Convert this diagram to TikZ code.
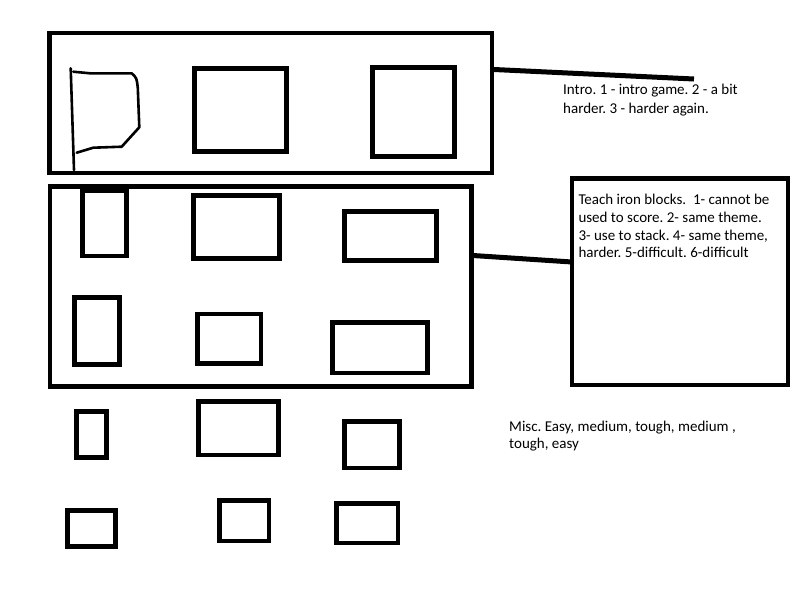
\documentclass[tikz,border=0pt]{standalone}
\usepackage{fontspec}
\setmainfont{Carlito}
\frenchspacing
\begin{document}
\begin{tikzpicture}[x=1pt,y=-1pt,
  box/.style={draw=black,line width=4.5pt,rectangle,inner sep=0pt,outer sep=0pt},
  conn/.style={draw=black,line width=5pt},
  sketch/.style={draw=black,line width=2.6pt,line cap=round,line join=round},
  txt/.style={anchor=base west,inner sep=0pt,font=\fontsize{15}{18}\selectfont,text=black}]
\useasboundingbox[fill=white] (0,0) rectangle (800,600);
% --- Intro frame
\node[box,minimum width=442.5pt,minimum height=140pt] (intro) at (270.75,103) {};
\draw[sketch] (70.7,68.3) -- (74,170);
\draw[sketch] (73.3,71.7) -- (90,73.3) -- (131.7,73.3) .. controls (136.7,78) .. (137.8,88) -- (139.3,127.3) -- (121.7,146.7) -- (93.3,147.7) -- (76.7,152.7);
\node[box,minimum width=91.6pt,minimum height=83pt] (i2) at (240.5,109.8) {};
\node[box,minimum width=81.6pt,minimum height=88.6pt] (i3) at (413.5,112) {};
% --- Iron frame
\node[box,minimum width=421.7pt,minimum height=199.6pt] (iron) at (260.65,286.5) {};
\node[box,minimum width=44pt,minimum height=65pt] (r1) at (104.3,223.5) {};
\node[box,minimum width=86.2pt,minimum height=62.8pt] (r2) at (236.4,227.1) {};
\node[box,minimum width=92pt,minimum height=49pt] (r3) at (390.5,236) {};
\node[box,minimum width=45.2pt,minimum height=67.4pt] (r4) at (96.9,331) {};
\node[box,minimum width=63.5pt,minimum height=49.3pt] (r5) at (229.45,338.85) {};
\node[box,minimum width=95pt,minimum height=50.7pt] (r6) at (380,347.85) {};
% --- Misc rows
\node[box,minimum width=30pt,minimum height=46pt] (m1) at (91.5,434.5) {};
\node[box,minimum width=80pt,minimum height=53.7pt] (m2) at (238.5,428.35) {};
\node[box,minimum width=55pt,minimum height=46.7pt] (m3) at (372,444.85) {};
\node[box,minimum width=47.8pt,minimum height=35.8pt] (m4) at (91.4,528.4) {};
\node[box,minimum width=49.7pt,minimum height=40.7pt] (m5) at (244.35,520.85) {};
\node[box,minimum width=61.7pt,minimum height=39.7pt] (m6) at (367.35,523.35) {};
% --- Iron note box
\node[box,minimum width=216pt,minimum height=206.5pt] (note) at (679.8,281.55) {};
% --- connectors
\coordinate (introR) at (494,69.5);
\coordinate (introEnd) at (694,79);
\draw[conn] (introR) -- (introEnd);
\coordinate (ironR) at (473,255.5);
\coordinate (noteL) at (572,262);
\draw[conn] (ironR) -- (noteL);
% --- texts
\node[txt] (t1a) at (563,94.8) {Intro. 1 - intro game. 2 - a bit};
\node[txt] (t1b) at (563,113.3) {harder. 3 - harder again.};
\node[txt] (t2a) at (578.3,204) {Teach iron blocks.\ \ 1- cannot be};
\node[txt] (t2b) at (578.3,222) {used to score. 2- same theme.};
\node[txt] (t2c) at (578.3,240) {3- use to stack. 4- same theme,};
\node[txt] (t2d) at (578.3,257.5) {harder. 5-difficult. 6-difficult};
\node[txt] (t3a) at (509,431.3) {Misc. Easy, medium, tough, medium ,};
\node[txt] (t3b) at (509,448.5) {tough, easy};
\end{tikzpicture}
\end{document}
